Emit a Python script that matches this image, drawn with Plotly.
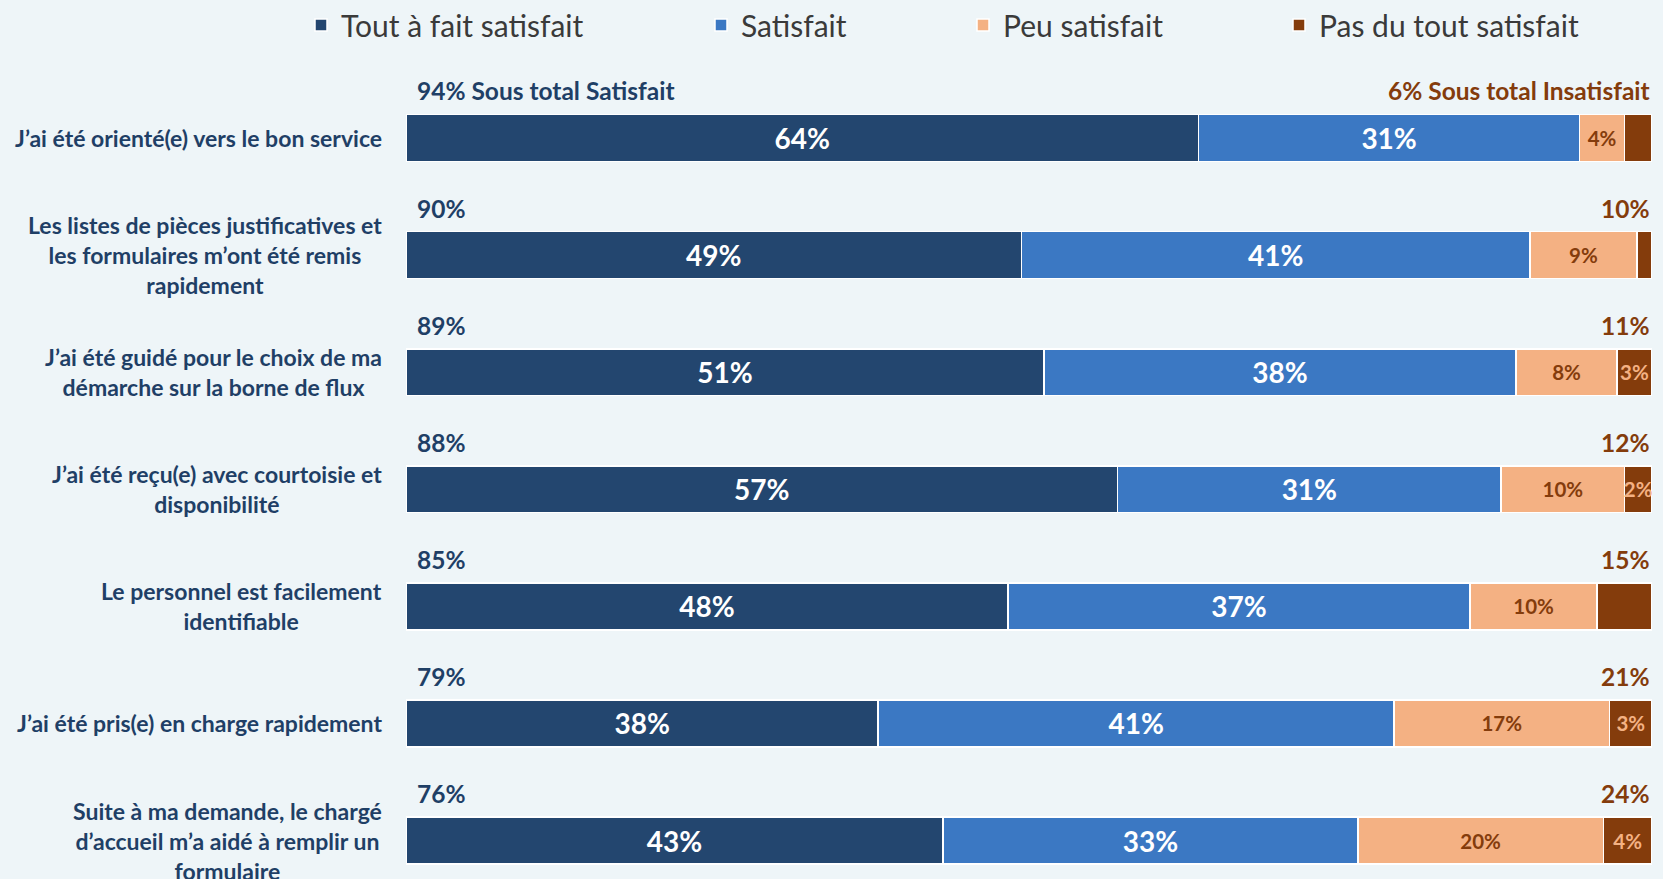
import plotly.graph_objects as go

categories = [
    "J’ai été orienté(e) vers le bon service",
    "Les listes de pièces justificatives et<br>les formulaires m’ont été remis<br>rapidement",
    "J’ai été guidé pour le choix de ma<br>démarche sur la borne de flux",
    "J’ai été reçu(e) avec courtoisie et<br>disponibilité",
    "Le personnel est facilement<br>identifiable",
    "J’ai été pris(e) en charge rapidement",
    "Suite à ma demande, le chargé<br>d’accueil m’a aidé à remplir un<br>formulaire",
]
series_names = ["Tout à fait satisfait", "Satisfait", "Peu satisfait", "Pas du tout satisfait"]
tout_a_fait = [63.6, 49.4, 51.2, 57.1, 48.3, 37.9, 43.1]
satisfait = [30.6, 40.8, 37.9, 30.8, 37.1, 41.4, 33.3]
peu_satisfait = [3.6, 8.6, 8.1, 9.9, 10.2, 17.3, 19.7]
pas_du_tout = [2.2, 1.2, 2.8, 2.2, 4.4, 3.4, 3.9]
pas_du_tout_label_shown = [False, False, True, True, False, True, True]
sous_total_satisfait = [94, 90, 89, 88, 85, 79, 76]
sous_total_insatisfait = [6, 10, 11, 12, 15, 21, 24]

NAVY = "#23466F"
BLUE = "#3B78C3"
PEACH = "#F4B183"
BROWN = "#843C0C"
BG = "#EEF5F8"
LABEL_NAVY = "#1F3F66"
FONT = "Lato"

W, H = 1663, 879
L, R, T, B = 406, 11, 80, 0

def pct(vals, shown=None):
    out = []
    for i, v in enumerate(vals):
        if shown is not None and not shown[i]:
            out.append("")
        else:
            out.append(f"{v:.0f}%")
    return out

fig = go.Figure()
specs = [
    (tout_a_fait, NAVY, "white", 28, None, "legend"),
    (satisfait, BLUE, "white", 28, None, "legend2"),
    (peu_satisfait, PEACH, BROWN, 20.5, None, "legend3"),
    (pas_du_tout, BROWN, PEACH, 20.5, pas_du_tout_label_shown, "legend4"),
]
for name, (vals, color, tcolor, tsize, shown, leg) in zip(series_names, specs):
    fig.add_trace(go.Bar(
        y=categories, x=vals, orientation="h", name=name,
        marker=dict(color=color, line=dict(color="white", width=1.5)),
        text=pct(vals, shown), textposition="inside", insidetextanchor="middle",
        textangle=0, constraintext="none",
        textfont=dict(family=FONT, size=tsize, color=tcolor, weight="bold"),
        hoverinfo="skip", legend=leg,
    ))

annotations = []
for i, cat in enumerate(categories):
    annotations.append(dict(
        x=0, xref="paper", xanchor="right", xshift=-22,
        y=cat, yref="y", yanchor="middle",
        text=cat, showarrow=False, align="center",
        font=dict(family=FONT, size=23, color=LABEL_NAVY, weight="bold"),
    ))
    left_txt = f"{sous_total_satisfait[i]}%" + (" Sous total Satisfait" if i == 0 else "")
    right_txt = f"{sous_total_insatisfait[i]}%" + (" Sous total Insatisfait" if i == 0 else "")
    annotations.append(dict(
        x=0, xref="x", xanchor="left", xshift=9,
        y=cat, yref="y", yanchor="middle", yshift=47,
        text=left_txt, showarrow=False,
        font=dict(family=FONT, size=24.5, color=LABEL_NAVY, weight="bold"),
    ))
    annotations.append(dict(
        x=100, xref="x", xanchor="right", xshift=0,
        y=cat, yref="y", yanchor="middle", yshift=47,
        text=right_txt, showarrow=False,
        font=dict(family=FONT, size=24.5, color=BROWN, weight="bold"),
    ))

leg_text_x = [341, 741, 1003, 1319]
legend_common = dict(
    orientation="h", xref="container", yref="container",
    y=1 - 25 / H, yanchor="middle", xanchor="left",
    bgcolor="rgba(0,0,0,0)", borderwidth=0,
    font=dict(family=FONT, size=30, color="#3A3A3A"),
    itemclick=False, itemdoubleclick=False,
)
legends = {}
for k, key in enumerate(["legend", "legend2", "legend3", "legend4"]):
    d = dict(legend_common)
    d["x"] = (leg_text_x[k] - 40) / W
    legends[key] = d

fig.update_layout(
    width=W, height=H,
    barmode="stack", bargap=0.6,
    paper_bgcolor=BG, plot_bgcolor=BG,
    margin=dict(l=L, r=R, t=T, b=B),
    xaxis=dict(range=[0, 100], visible=False, fixedrange=True),
    yaxis=dict(range=[6.328, -0.495], showticklabels=False, showgrid=False,
               zeroline=False, fixedrange=True),
    annotations=annotations,
    showlegend=True,
    **legends,
)
fig.write_html(
    "out.html",
    config={"displayModeBar": False},
    post_script="document.body.style.margin='0';document.body.style.overflow='hidden';",
)
